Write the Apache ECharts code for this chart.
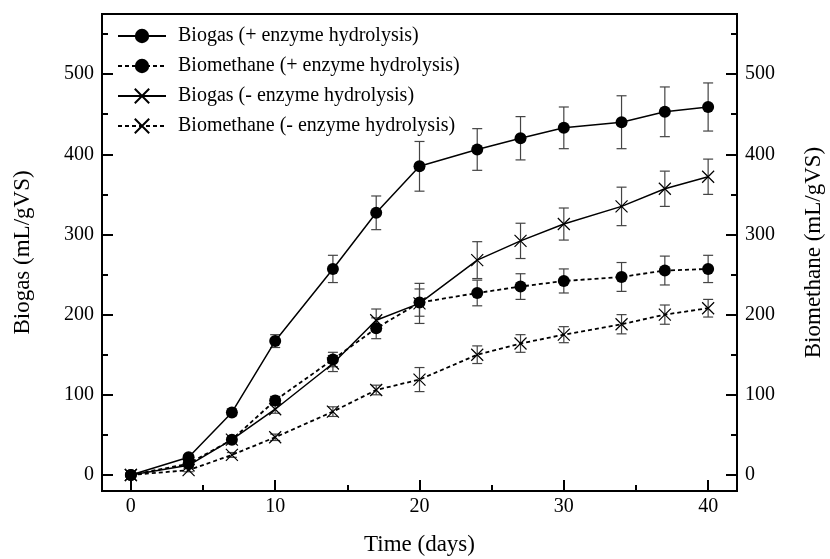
<!DOCTYPE html>
<html>
<head>
<meta charset="utf-8">
<script src="https://cdn.jsdelivr.net/npm/echarts@6/dist/echarts.min.js"></script>
<style>
  html, body { margin: 0; padding: 0; background: #fff; }
  #chart { width: 830px; height: 559px; }
</style>
</head>
<body>
<div id="chart"></div>
<script>
// 时间 (days)
const days = [0, 4, 7, 10, 14, 17, 20, 24, 27, 30, 34, 37, 40]
// Biogas (+ enzyme hydrolysis)
const biogasPlus = [0, 22, 78, 167, 257, 327, 385, 406, 420, 433, 440, 453, 459]
const biogasPlusErr = [0, 3, 4, 8, 17, 21, 31, 26, 27, 26, 33, 31, 30]
// Biomethane (+ enzyme hydrolysis)
const methanePlus = [0, 14, 44, 93, 144, 183, 215, 227, 235, 242, 247, 255, 257]
const methanePlusErr = [0, 3, 3, 5, 9, 13, 17, 16, 16, 15, 18, 18, 17]
// Biogas (- enzyme hydrolysis)
const biogasMinus = [0, 12, 44, 82, 139, 193, 214, 268, 292, 313, 335, 357, 372]
const biogasMinusErr = [0, 3, 3, 5, 10, 14, 25, 23, 22, 20, 24, 22, 22]
// Biomethane (- enzyme hydrolysis)
const methaneMinus = [0, 6, 25, 47, 79, 106, 119, 150, 164, 175, 188, 200, 208]
const methaneMinusErr = [0, 2, 3, 4, 6, 6, 15, 11, 11, 10, 12, 12, 11]

// 刻度
const xTicks = [0, 10, 20, 30, 40]
const xMinorTicks = [5, 15, 25, 35]
const yTicks = [0, 100, 200, 300, 400, 500]
const yMinorTicks = [50, 150, 250, 350, 450, 550]

const FONT = 'Liberation Serif'
const crossPath = 'path://M0 0L10 10M10 0L0 10'

const pts = vals => days.map((d, i) => [d, vals[i]])
const errs = (vals, e) => days.map((d, i) => [d, vals[i] - e[i], vals[i] + e[i]])

// 误差线
function renderErr(params, api) {
  const x = api.value(0)
  const lo = api.coord([x, api.value(1)])
  const hi = api.coord([x, api.value(2)])
  const w = 5
  const style = { stroke: '#444', lineWidth: 1.2 }
  return {
    type: 'group',
    children: [
      { type: 'line', shape: { x1: hi[0], y1: hi[1], x2: lo[0], y2: lo[1] }, style },
      { type: 'line', shape: { x1: hi[0] - w, y1: hi[1], x2: hi[0] + w, y2: hi[1] }, style },
      { type: 'line', shape: { x1: lo[0] - w, y1: lo[1], x2: lo[0] + w, y2: lo[1] }, style }
    ]
  }
}

function errSeries(data, yIdx) {
  return {
    type: 'custom',
    xAxisIndex: 0,
    yAxisIndex: yIdx,
    renderItem: renderErr,
    encode: { x: 0, y: [1, 2] },
    data: data,
    z: 1,
    silent: true
  }
}

function lineSeries(name, data, yIdx, dashed, cross) {
  return {
    name: name,
    type: 'line',
    xAxisIndex: 0,
    yAxisIndex: yIdx,
    data: data,
    symbol: cross ? crossPath : 'circle',
    symbolSize: 12,
    showAllSymbol: true,
    lineStyle: { color: '#000', width: dashed ? 1.8 : 1.5, type: dashed ? [4, 3] : 'solid' },
    itemStyle: cross
      ? { color: 'transparent', borderColor: '#000', borderWidth: 1.2 }
      : { color: '#000', borderWidth: 0 },
    emphasis: { disabled: true },
    z: 3
  }
}

const axisLineStyle = { show: true, onZero: false, lineStyle: { color: '#000', width: 2 } }
const labelStyle = { color: '#000', fontFamily: FONT, fontSize: 20 }
const nameStyle = { color: '#000', fontFamily: FONT, fontSize: 23 }

function yMain(pos, name, gap) {
  return {
    type: 'value',
    position: pos,
    min: -20,
    max: 575,
    name: name,
    nameLocation: 'middle',
    nameGap: gap,
    nameTextStyle: nameStyle,
    axisLine: axisLineStyle,
    axisTick: { show: true, inside: true, length: 11, lineStyle: { color: '#000', width: 2 }, customValues: yTicks },
    axisLabel: Object.assign({ margin: 8, customValues: yTicks }, labelStyle),
    splitLine: { show: false }
  }
}

function yMinor(pos) {
  return {
    type: 'value',
    position: pos,
    min: -20,
    max: 575,
    axisLine: { show: false, onZero: false },
    axisTick: { show: true, inside: true, length: 6, lineStyle: { color: '#000', width: 2 }, customValues: yMinorTicks },
    axisLabel: { show: false },
    splitLine: { show: false }
  }
}

const chart = echarts.init(document.getElementById('chart'))
const option = {
  backgroundColor: '#fff',
  animation: false,
  grid: {
    left: 102,
    right: 93,
    top: 14,
    bottom: 68,
    outerBoundsMode: 'none',
    show: true,
    borderColor: '#000',
    borderWidth: 2,
    backgroundColor: 'transparent'
  },
  legend: {
    data: [
      'Biogas (+ enzyme hydrolysis)',
      'Biomethane (+ enzyme hydrolysis)',
      'Biogas (- enzyme hydrolysis)',
      'Biomethane (- enzyme hydrolysis)'
    ],
    orient: 'vertical',
    left: 112,
    top: 21,
    itemWidth: 48,
    itemHeight: 18,
    itemGap: 10,
    selectedMode: false,
    textStyle: { color: '#000', fontFamily: FONT, fontSize: 20, padding: [0, 0, 0, 7] }
  },
  xAxis: [
    {
      type: 'value',
      min: -2,
      max: 42,
      name: 'Time (days)',
      nameLocation: 'middle',
      nameGap: 42,
      nameTextStyle: nameStyle,
      axisLine: axisLineStyle,
      axisTick: { show: true, inside: true, length: 11, lineStyle: { color: '#000', width: 2 }, customValues: xTicks },
      axisLabel: Object.assign({ margin: 6, customValues: xTicks }, labelStyle),
      splitLine: { show: false }
    },
    {
      type: 'value',
      position: 'bottom',
      min: -2,
      max: 42,
      axisLine: { show: false, onZero: false },
      axisTick: { show: true, inside: true, length: 6, lineStyle: { color: '#000', width: 2 }, customValues: xMinorTicks },
      axisLabel: { show: false },
      splitLine: { show: false }
    }
  ],
  yAxis: [
    yMain('left', 'Biogas (mL/gVS)', 68),
    yMinor('left'),
    yMain('right', 'Biomethane (mL/gVS)', 65),
    yMinor('right')
  ],
  series: [
    errSeries(errs(biogasPlus, biogasPlusErr), 0),
    errSeries(errs(methanePlus, methanePlusErr), 2),
    errSeries(errs(biogasMinus, biogasMinusErr), 0),
    errSeries(errs(methaneMinus, methaneMinusErr), 2),
    lineSeries('Biogas (+ enzyme hydrolysis)', pts(biogasPlus), 0, false, false),
    lineSeries('Biomethane (+ enzyme hydrolysis)', pts(methanePlus), 2, true, false),
    lineSeries('Biogas (- enzyme hydrolysis)', pts(biogasMinus), 0, false, true),
    lineSeries('Biomethane (- enzyme hydrolysis)', pts(methaneMinus), 2, true, true)
  ]
}
chart.setOption(option)
</script>
</body>
</html>
